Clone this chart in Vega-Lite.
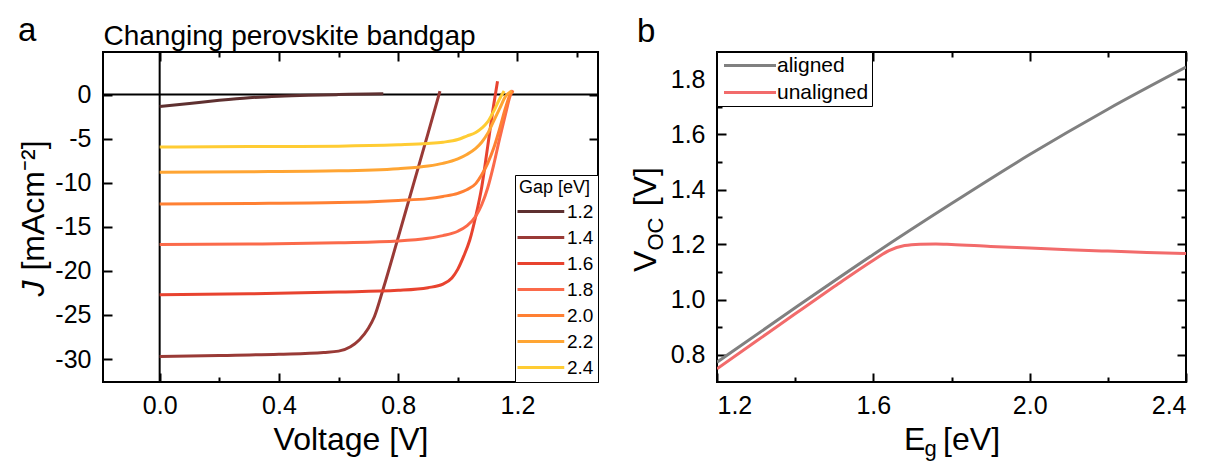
{
  "$schema": "https://vega.github.io/schema/vega-lite/v6.json",
  "background": "white",
  "padding": {"left": 15, "top": 14, "right": 5, "bottom": 5},
  "config": {
    "font": "Liberation Sans",
    "view": {"stroke": "black", "strokeWidth": 2},
    "axis": {
      "grid": false, "domain": false,
      "labelFont": "Liberation Sans", "labelFontSize": 25, "labelColor": "black",
      "titleFont": "Liberation Sans", "titleFontSize": 32, "titleFontWeight": "normal", "titleColor": "black",
      "tickColor": "black", "tickWidth": 2, "labelPadding": 21
    },
    "legend": {
      "labelFont": "Liberation Sans", "titleFont": "Liberation Sans",
      "titleFontWeight": "normal", "titleColor": "black", "labelColor": "black",
      "fillColor": "white", "strokeColor": "black", "symbolStrokeWidth": 3
    },
    "title": {"font": "Liberation Sans", "fontWeight": "normal", "color": "black", "fontSize": 33}
  },
  "datasets": {
    "jv": [
      {"gap": "1.2", "V": 0.0, "J": -1.35}, {"gap": "1.2", "V": 0.1, "J": -1.0}, {"gap": "1.2", "V": 0.2, "J": -0.65},
      {"gap": "1.2", "V": 0.3, "J": -0.36}, {"gap": "1.2", "V": 0.4, "J": -0.18}, {"gap": "1.2", "V": 0.5, "J": -0.07},
      {"gap": "1.2", "V": 0.6, "J": 0.0}, {"gap": "1.2", "V": 0.7, "J": 0.07}, {"gap": "1.2", "V": 0.75, "J": 0.1},

      {"gap": "1.4", "V": 0.0, "J": -29.7}, {"gap": "1.4", "V": 0.2, "J": -29.6}, {"gap": "1.4", "V": 0.4, "J": -29.45},
      {"gap": "1.4", "V": 0.55, "J": -29.25}, {"gap": "1.4", "V": 0.6, "J": -29.1}, {"gap": "1.4", "V": 0.64, "J": -28.6},
      {"gap": "1.4", "V": 0.67, "J": -27.8}, {"gap": "1.4", "V": 0.7, "J": -26.5}, {"gap": "1.4", "V": 0.72, "J": -25.2},
      {"gap": "1.4", "V": 0.75, "J": -22.0}, {"gap": "1.4", "V": 0.8, "J": -16.2}, {"gap": "1.4", "V": 0.85, "J": -10.3},
      {"gap": "1.4", "V": 0.9, "J": -4.4}, {"gap": "1.4", "V": 0.94, "J": 0.4},

      {"gap": "1.6", "V": 0.0, "J": -22.7}, {"gap": "1.6", "V": 0.3, "J": -22.6}, {"gap": "1.6", "V": 0.6, "J": -22.4},
      {"gap": "1.6", "V": 0.8, "J": -22.2}, {"gap": "1.6", "V": 0.9, "J": -21.9}, {"gap": "1.6", "V": 0.95, "J": -21.5},
      {"gap": "1.6", "V": 0.98, "J": -20.8}, {"gap": "1.6", "V": 1.0, "J": -19.8}, {"gap": "1.6", "V": 1.02, "J": -18.3},
      {"gap": "1.6", "V": 1.04, "J": -16.5}, {"gap": "1.6", "V": 1.06, "J": -13.8}, {"gap": "1.6", "V": 1.08, "J": -10.5},
      {"gap": "1.6", "V": 1.1, "J": -5.9}, {"gap": "1.6", "V": 1.12, "J": -1.2}, {"gap": "1.6", "V": 1.133, "J": 1.5},

      {"gap": "1.8", "V": 0.0, "J": -17.0}, {"gap": "1.8", "V": 0.3, "J": -16.95}, {"gap": "1.8", "V": 0.6, "J": -16.8},
      {"gap": "1.8", "V": 0.8, "J": -16.6}, {"gap": "1.8", "V": 0.9, "J": -16.3}, {"gap": "1.8", "V": 0.95, "J": -16.0},
      {"gap": "1.8", "V": 1.0, "J": -15.5}, {"gap": "1.8", "V": 1.03, "J": -14.9}, {"gap": "1.8", "V": 1.06, "J": -13.8},
      {"gap": "1.8", "V": 1.08, "J": -12.5}, {"gap": "1.8", "V": 1.1, "J": -10.6}, {"gap": "1.8", "V": 1.12, "J": -8.0},
      {"gap": "1.8", "V": 1.14, "J": -5.0}, {"gap": "1.8", "V": 1.16, "J": -2.2}, {"gap": "1.8", "V": 1.175, "J": -0.2},
      {"gap": "1.8", "V": 1.185, "J": 0.5},

      {"gap": "2.0", "V": 0.0, "J": -12.4}, {"gap": "2.0", "V": 0.3, "J": -12.35}, {"gap": "2.0", "V": 0.6, "J": -12.25},
      {"gap": "2.0", "V": 0.8, "J": -12.0}, {"gap": "2.0", "V": 0.9, "J": -11.8}, {"gap": "2.0", "V": 0.95, "J": -11.55},
      {"gap": "2.0", "V": 1.0, "J": -11.2}, {"gap": "2.0", "V": 1.03, "J": -10.8}, {"gap": "2.0", "V": 1.06, "J": -10.1},
      {"gap": "2.0", "V": 1.08, "J": -9.1}, {"gap": "2.0", "V": 1.1, "J": -7.8}, {"gap": "2.0", "V": 1.12, "J": -6.1},
      {"gap": "2.0", "V": 1.14, "J": -3.9}, {"gap": "2.0", "V": 1.16, "J": -1.5}, {"gap": "2.0", "V": 1.175, "J": 0.0},
      {"gap": "2.0", "V": 1.185, "J": 0.4},

      {"gap": "2.2", "V": 0.0, "J": -8.8}, {"gap": "2.2", "V": 0.3, "J": -8.75}, {"gap": "2.2", "V": 0.6, "J": -8.65},
      {"gap": "2.2", "V": 0.8, "J": -8.4}, {"gap": "2.2", "V": 0.9, "J": -8.1}, {"gap": "2.2", "V": 0.95, "J": -7.8},
      {"gap": "2.2", "V": 1.0, "J": -7.3}, {"gap": "2.2", "V": 1.03, "J": -6.8}, {"gap": "2.2", "V": 1.06, "J": -6.1},
      {"gap": "2.2", "V": 1.08, "J": -5.4}, {"gap": "2.2", "V": 1.1, "J": -4.4}, {"gap": "2.2", "V": 1.12, "J": -3.0},
      {"gap": "2.2", "V": 1.14, "J": -1.6}, {"gap": "2.2", "V": 1.16, "J": -0.2}, {"gap": "2.2", "V": 1.18, "J": 0.4},

      {"gap": "2.4", "V": 0.0, "J": -5.95}, {"gap": "2.4", "V": 0.3, "J": -5.9}, {"gap": "2.4", "V": 0.6, "J": -5.85},
      {"gap": "2.4", "V": 0.8, "J": -5.7}, {"gap": "2.4", "V": 0.9, "J": -5.55}, {"gap": "2.4", "V": 0.95, "J": -5.4},
      {"gap": "2.4", "V": 1.0, "J": -5.1}, {"gap": "2.4", "V": 1.03, "J": -4.7}, {"gap": "2.4", "V": 1.06, "J": -4.3},
      {"gap": "2.4", "V": 1.08, "J": -3.8}, {"gap": "2.4", "V": 1.1, "J": -3.1}, {"gap": "2.4", "V": 1.12, "J": -1.9},
      {"gap": "2.4", "V": 1.14, "J": -0.5}, {"gap": "2.4", "V": 1.155, "J": 0.4}
    ],
    "voc": [
      {"case": "aligned", "Eg": 1.2, "Voc": 0.772}, {"case": "aligned", "Eg": 1.4, "Voc": 0.97},
      {"case": "aligned", "Eg": 1.6, "Voc": 1.164}, {"case": "aligned", "Eg": 1.8, "Voc": 1.349},
      {"case": "aligned", "Eg": 2.0, "Voc": 1.527}, {"case": "aligned", "Eg": 2.2, "Voc": 1.692},
      {"case": "aligned", "Eg": 2.4, "Voc": 1.845},
      {"case": "unaligned", "Eg": 1.2, "Voc": 0.748}, {"case": "unaligned", "Eg": 1.3, "Voc": 0.848},
      {"case": "unaligned", "Eg": 1.4, "Voc": 0.948}, {"case": "unaligned", "Eg": 1.5, "Voc": 1.047},
      {"case": "unaligned", "Eg": 1.6, "Voc": 1.143}, {"case": "unaligned", "Eg": 1.64, "Voc": 1.178},
      {"case": "unaligned", "Eg": 1.68, "Voc": 1.196}, {"case": "unaligned", "Eg": 1.72, "Voc": 1.201},
      {"case": "unaligned", "Eg": 1.76, "Voc": 1.202}, {"case": "unaligned", "Eg": 1.8, "Voc": 1.2},
      {"case": "unaligned", "Eg": 1.9, "Voc": 1.193}, {"case": "unaligned", "Eg": 2.0, "Voc": 1.187},
      {"case": "unaligned", "Eg": 2.1, "Voc": 1.181}, {"case": "unaligned", "Eg": 2.2, "Voc": 1.176},
      {"case": "unaligned", "Eg": 2.3, "Voc": 1.171}, {"case": "unaligned", "Eg": 2.4, "Voc": 1.167}
    ]
  },
  "bounds": "flush",
  "spacing": 119,
  "resolve": {"scale": {"color": "independent"}, "legend": {"color": "independent"}},
  "hconcat": [
    {
      "width": 495, "height": 330,
      "title": {"text": "a", "anchor": "start", "frame": "group", "dx": -85, "dy": 26, "offset": 0},
      "resolve": {"axis": {"x": "independent", "y": "independent"}},
      "layer": [
        {
          "data": {"values": [{}]},
          "mark": {"type": "rule", "color": "black", "strokeWidth": 2},
          "encoding": {
            "x": {"datum": 0, "type": "quantitative",
              "scale": {"domain": [-0.19, 1.47], "nice": false, "zero": false},
              "axis": {"orient": "top", "values": [0, 0.2, 0.4, 0.6, 0.8, 1.0, 1.2, 1.4], "labels": false,
                "tickSize": {"condition": {"test": "indexof([0, 0.4, 0.8, 1.2], datum.value) >= 0", "value": -9}, "value": -5},
                "title": "Changing perovskite bandgap", "titleFontSize": 28, "titleX": 0, "titleY": -8,
                "titleAlign": "left", "titleAnchor": "start", "titleBaseline": "alphabetic", "titleAngle": 0}}
          }
        },
        {
          "data": {"values": [{}]},
          "mark": {"type": "rule", "color": "black", "strokeWidth": 2},
          "encoding": {
            "y": {"datum": 0, "type": "quantitative",
              "scale": {"domain": [-32.6, 4.83], "nice": false, "zero": false},
              "axis": {"orient": "right", "values": [-30, -25, -20, -15, -10, -5, 0], "labels": false, "tickSize": -9,
                "title": "J", "titleFontStyle": "italic", "titleAngle": -90, "titleAlign": "left", "titleBaseline": "alphabetic",
                "titleX": -555, "titleY": 244}}
          }
        },
        {
          "data": {"name": "jv"},
          "mark": {"type": "line", "strokeWidth": 3, "interpolate": "monotone", "clip": true},
          "encoding": {
            "x": {"field": "V", "type": "quantitative",
              "scale": {"domain": [-0.19, 1.47], "nice": false, "zero": false},
              "axis": {"orient": "bottom", "values": [0, 0.2, 0.4, 0.6, 0.8, 1.0, 1.2, 1.4],
                "labelExpr": "indexof([0, 0.4, 0.8, 1.2], datum.value) >= 0 ? format(datum.value, '.1f') : ''",
                "tickSize": {"condition": {"test": "indexof([0, 0.4, 0.8, 1.2], datum.value) >= 0", "value": -9}, "value": -5},
                "labelPadding": 20,
                "title": "Voltage [V]", "titleBaseline": "alphabetic", "titleY": 67}},
            "y": {"field": "J", "type": "quantitative",
              "scale": {"domain": [-32.6, 4.83], "nice": false, "zero": false},
              "axis": {"orient": "left", "values": [-30, -25, -20, -15, -10, -5, 0], "tickSize": -9,
                "labelExpr": "datum.value + ''",
                "title": "[mAcm⁻²]", "titleAngle": -90, "titleAlign": "center", "titleBaseline": "alphabetic",
                "titleX": -60, "titleY": 153}},
            "color": {"field": "gap", "type": "nominal",
              "scale": {"domain": ["1.2", "1.4", "1.6", "1.8", "2.0", "2.2", "2.4"],
                "range": ["#5e3030", "#993a36", "#e8432f", "#fb6a4a", "#ff8033", "#ffa533", "#ffcc33"]},
              "legend": {"title": "Gap [eV]", "orient": "bottom-right", "offset": 0, "padding": 4,
                "titleFontSize": 18, "labelFontSize": 19, "titlePadding": 5, "rowPadding": 6,
                "symbolType": "M-2,0H6.5", "symbolSize": 121, "labelOffset": 29}}
          }
        }
      ]
    },
    {
      "width": 469, "height": 330,
      "title": {"text": "b", "anchor": "start", "frame": "group", "dx": -80, "dy": -2, "offset": 0},
      "resolve": {"axis": {"x": "independent", "y": "independent"}},
      "layer": [
        {
          "data": {"values": [{}]},
          "mark": {"type": "point", "opacity": 0},
          "encoding": {
            "x": {"datum": 1.5, "type": "quantitative",
              "scale": {"domain": [1.2, 2.4], "nice": false, "zero": false},
              "axis": {"orient": "top", "values": [1.2, 1.4, 1.6, 1.8, 2.0, 2.2, 2.4], "labels": false,
                "tickSize": {"condition": {"test": "indexof([1.2, 1.6, 2, 2.4], datum.value) >= 0", "value": -9}, "value": -5},
                "title": "g", "titleFontSize": 22, "titleX": 207, "titleY": 403, "titleAlign": "left",
                "titleBaseline": "alphabetic", "titleAngle": 0}},
            "y": {"datum": 1.0, "type": "quantitative",
              "scale": {"domain": [0.7, 1.9], "nice": false, "zero": false},
              "axis": {"orient": "right", "values": [0.8, 0.9, 1.0, 1.1, 1.2, 1.3, 1.4, 1.5, 1.6, 1.7, 1.8], "labels": false,
                "tickSize": {"condition": {"test": "indexof([0.8, 1, 1.2, 1.4, 1.6, 1.8], datum.value) >= 0", "value": -9}, "value": -5},
                "title": "OC", "titleFontSize": 22, "titleAngle": -90, "titleAlign": "left", "titleBaseline": "alphabetic",
                "titleX": -524, "titleY": 198}}
          }
        },
        {
          "data": {"name": "voc"},
          "mark": {"type": "line", "strokeWidth": 3, "interpolate": "monotone", "clip": true},
          "encoding": {
            "x": {"field": "Eg", "type": "quantitative",
              "scale": {"domain": [1.2, 2.4], "nice": false, "zero": false},
              "axis": {"orient": "bottom", "values": [1.2, 1.4, 1.6, 1.8, 2.0, 2.2, 2.4],
                "labelExpr": "indexof([1.2, 1.6, 2, 2.4], datum.value) >= 0 ? format(datum.value, '.1f') : ''",
                "tickSize": {"condition": {"test": "indexof([1.2, 1.6, 2, 2.4], datum.value) >= 0", "value": -9}, "value": -5},
                "labelPadding": 20,
                "title": "E\u00a0\u00a0[eV]", "titleBaseline": "alphabetic", "titleY": 67}},
            "y": {"field": "Voc", "type": "quantitative",
              "scale": {"domain": [0.7, 1.9], "nice": false, "zero": false},
              "axis": {"orient": "left", "values": [0.8, 0.9, 1.0, 1.1, 1.2, 1.3, 1.4, 1.5, 1.6, 1.7, 1.8],
                "labelExpr": "indexof([0.8, 1, 1.2, 1.4, 1.6, 1.8], datum.value) >= 0 ? format(datum.value, '.1f') : ''",
                "tickSize": {"condition": {"test": "indexof([0.8, 1, 1.2, 1.4, 1.6, 1.8], datum.value) >= 0", "value": -9}, "value": -5},
                "title": "V\u00a0\u00a0\u00a0\u00a0\u00a0[V]", "titleAngle": -90, "titleAlign": "center", "titleBaseline": "alphabetic",
                "titleX": -62, "titleY": 167}},
            "color": {"field": "case", "type": "nominal",
              "scale": {"domain": ["aligned", "unaligned"], "range": ["#808080", "#f26b6b"]},
              "legend": {"title": null, "orient": "top-left", "offset": 0, "padding": 3,
                "labelFontSize": 21, "rowPadding": 5,
                "symbolType": "M-1,0H7", "symbolSize": 169, "labelOffset": 36}}
          }
        }
      ]
    }
  ]
}
